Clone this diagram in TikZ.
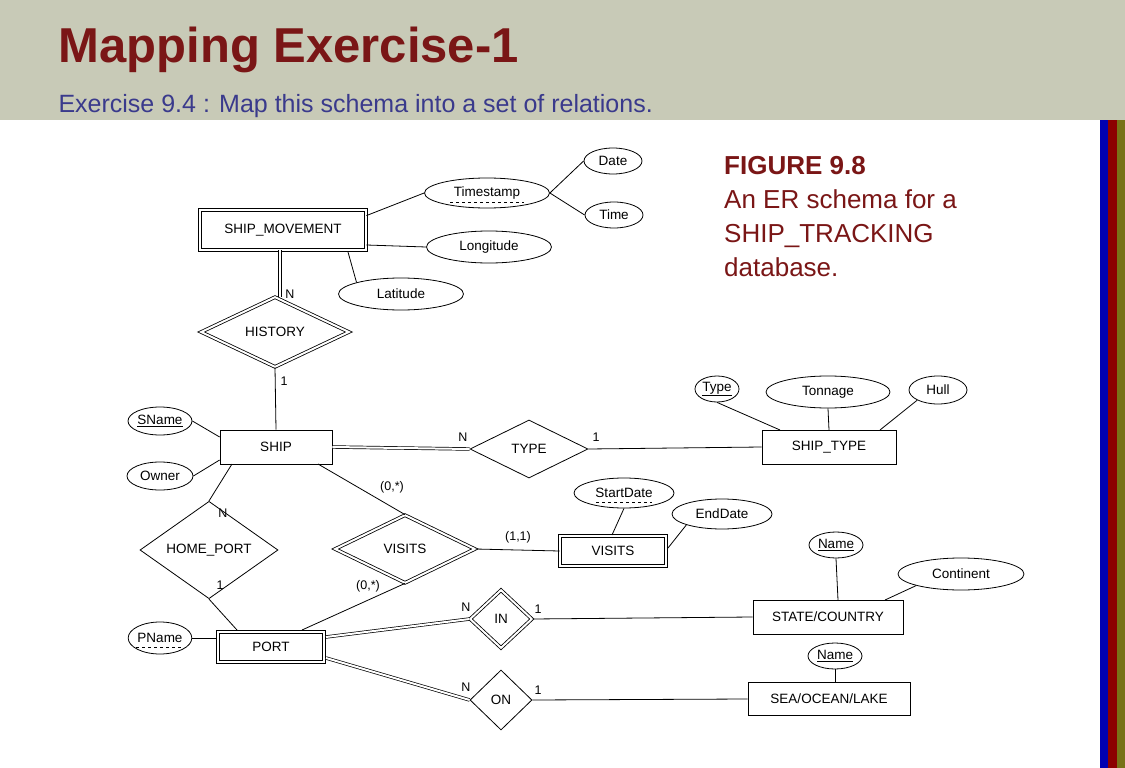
\documentclass[tikz,border=0pt]{standalone}
\usepackage{fontspec}
\setmainfont{Liberation Sans}
\usetikzlibrary{shapes.geometric}
\definecolor{hdr}{RGB}{200,202,183}
\definecolor{ttl}{RGB}{122,22,22}
\definecolor{sub}{RGB}{58,58,140}
\begin{document}
\begin{tikzpicture}[x=1pt,y=-1pt,
  every node/.style={font=\fontsize{13.5}{15}\selectfont},
  ent/.style={draw,rectangle,inner sep=0,line width=0.8pt},
  wk/.style={ent,double,double distance=2pt},
  att/.style={draw,ellipse,inner sep=0,line width=0.8pt},
  rel/.style={draw,diamond,inner sep=0,line width=0.8pt},
  wrel/.style={rel,double,double distance=2pt},
  ln/.style={line width=0.8pt},
  dl/.style={double,double distance=2pt,line width=0.7pt},
  lab/.style={font=\fontsize{12.5}{14}\selectfont}]
\useasboundingbox (0,0) rectangle (1125,768);
\fill[white] (0,0) rectangle (1125,768);
\fill[blue!70!black] (1100,120) rectangle (1108,768);
\fill[red!55!black] (1108,120) rectangle (1117,768);
\fill[olive!80!black] (1117,120) rectangle (1125,768);
\fill[hdr] (0,0) rectangle (1125,120);
\node[anchor=west,text=ttl,font=\fontsize{49}{54}\selectfont\bfseries] (title) at (55,50) {Mapping Exercise-1};
\node[anchor=west,text=sub,font=\fontsize{25}{28}\selectfont] (subt) at (55,106) {Exercise 9.4 : Map this schema into a set of relations.};
\node[anchor=north west,text=ttl,align=left,font=\fontsize{26}{34}\selectfont,inner sep=2pt] (fig) at (722,154) {\textbf{FIGURE 9.8}\\An ER schema for a\\SHIP\_TRACKING\\database.};

% entities
\node[wk,minimum width=166,minimum height=40] (sm) at (283,230) {SHIP\_MOVEMENT};
\node[ent,minimum width=112,minimum height=34] (ship) at (276,447) {SHIP};
\node[ent,minimum width=134,minimum height=34] (st) at (829,447) {SHIP\_TYPE};
\node[wk,minimum width=106,minimum height=30] (ve) at (613,551) {VISITS};
\node[wk,minimum width=106,minimum height=30] (port) at (271,647) {PORT};
\node[ent,minimum width=150,minimum height=34] (sc) at (828,617) {STATE/COUNTRY};
\node[ent,minimum width=162,minimum height=33] (sol) at (829,699) {SEA/OCEAN/LAKE};

% relationships
\node[wrel,minimum width=148,minimum height=70] (hist) at (275,332) {HISTORY};
\node[rel,minimum width=118,minimum height=58] (type) at (529,449) {TYPE};
\node[rel,minimum width=138,minimum height=64] (hp) at (209,550) {HOME\_PORT};
\node[wrel,minimum width=140,minimum height=68] (vr) at (405,549) {VISITS};
\node[wrel,minimum width=62,minimum height=58] (in) at (501,619) {IN};
\node[rel,minimum width=62,minimum height=60] (on) at (501,700) {ON};

% attributes
\node[att,minimum width=125,minimum height=30] (ts) at (487,193) {Timestamp};
\draw[dashed,line width=0.6pt] (450,202) -- (524,202);
\node[att,minimum width=58,minimum height=26] (date) at (613,161) {Date};
\node[att,minimum width=58,minimum height=26] (time) at (614,215) {Time};
\node[att,minimum width=125,minimum height=32] (lon) at (489,247) {Longitude};
\node[att,minimum width=125,minimum height=32] (lat) at (401,294) {Latitude};
\node[att,minimum width=64,minimum height=28] (sname) at (160,421) {\underline{SName}};
\node[att,minimum width=66,minimum height=28] (owner) at (160,476) {Owner};
\node[att,minimum width=44,minimum height=26] (tp) at (717,389) {\underline{Type}};
\node[att,minimum width=124,minimum height=32] (ton) at (828,392) {Tonnage};
\node[att,minimum width=58,minimum height=28] (hull) at (938,390) {Hull};
\node[att,minimum width=100,minimum height=30] (sd) at (624,493) {StartDate};
\draw[dashed,line width=0.6pt] (596,502) -- (652,502);
\node[att,minimum width=100,minimum height=30] (ed) at (722,514) {EndDate};
\node[att,minimum width=62,minimum height=32] (pn) at (160,638) {PName};
\draw[dashed,line width=0.6pt] (136,647) -- (184,647);
\node[att,minimum width=54,minimum height=26] (n1) at (836,545) {\underline{Name}};
\node[att,minimum width=126,minimum height=32] (cont) at (961,574) {Continent};
\node[att,minimum width=54,minimum height=26] (n2) at (835,656) {\underline{Name}};

% attribute lines
\draw[ln] (sm.north east) ++(0,6) -- (ts.west);
\draw[ln] (ts.east) -- (date.west);
\draw[ln] (ts.east) -- (time.west);
\draw[ln] (sm.east) ++(0,15) -- (lon.west);
\draw[ln] (348,252) -- (lat.north west);
\draw[ln] (sname.east) -- (ship.west |- 437,437);
\draw[ln] (owner.east) -- (ship.west |- 460,460);
\draw[ln] (tp.south) -- (780,430);
\draw[ln] (ton.south) -- (829,430);
\draw[ln] (hull.south west) -- (880,430);
\draw[ln] (sd.south) -- (612,535);
\draw[ln] (ed.south west) -- (668,548);
\draw[ln] (pn.east) -- (216,638);
\draw[ln] (n1.south) -- (838,600);
\draw[ln] (cont.south west) -- (885,600);
\draw[ln] (n2.south) -- (835,683);

% relationship lines
\draw[dl] (sm.south -| 280,0) -- (hist.north -| 280,0);
\node[lab] (lN1) at (290,294) {N};
\draw[ln] (hist.south) -- (ship.north);
\node[lab] (l11) at (284,381) {1};
\draw[dl] (ship.east) -- (type.west);
\node[lab] (lN2) at (463,437) {N};
\draw[ln] (type.east) -- (st.west);
\node[lab] (l12) at (596,437) {1};
\draw[ln] (318,464) -- (vr.north);
\node[lab] (lz1) at (392,487) {(0,*)};
\draw[ln] (232,464) -- (hp.north);
\node[lab] (lN3) at (223,513) {N};
\draw[ln] (hp.south) -- (237,630);
\node[lab] (l13) at (220,585) {1};
\draw[ln] (vr.south) -- (302,630);
\node[lab] (lz2) at (368,586) {(0,*)};
\draw[ln] (vr.east) -- (ve.west);
\node[lab] (l1b) at (518,537) {(1,1)};
\draw[dl] (326,637) -- (in.west);
\node[lab] (lN4) at (466,607) {N};
\draw[ln] (in.east) -- (sc.west);
\node[lab] (l14) at (538,609) {1};
\draw[dl] (326,658) -- (on.west);
\node[lab] (lN5) at (466,687) {N};
\draw[ln] (on.east) -- (sol.west);
\node[lab] (l15) at (538,690) {1};
\end{tikzpicture}
\end{document}
